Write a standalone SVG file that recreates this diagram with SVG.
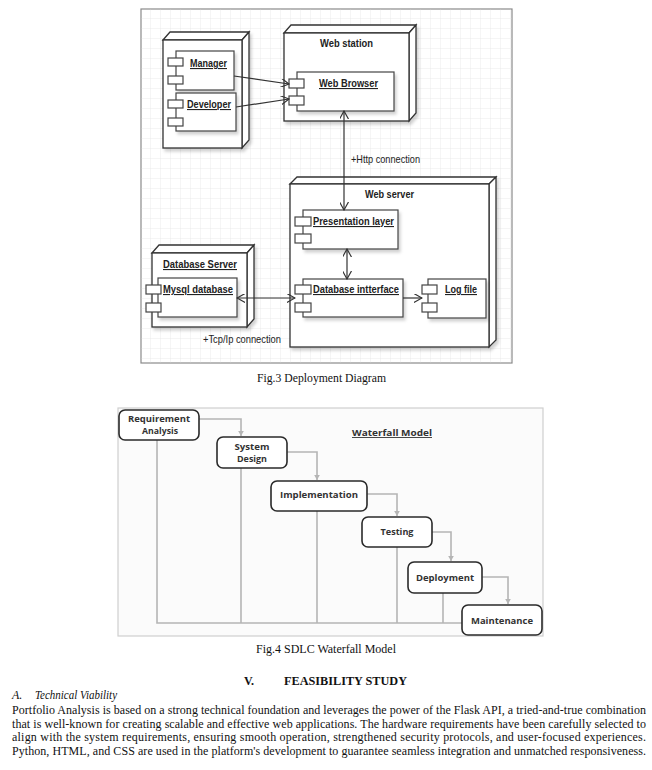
<svg xmlns="http://www.w3.org/2000/svg" width="652" height="770" viewBox="0 0 652 770">
<style>
.frame{fill:#fff;stroke:#8a8a8a;stroke-width:1.2}
.node{fill:#fff;stroke:#333;stroke-width:1.3}
.comp{fill:#fff;stroke:#444;stroke-width:1.2}
.lbl{font-family:"Liberation Sans",Arial,sans-serif;font-size:11px;fill:#222}
.b{font-weight:bold}
.u{text-decoration:underline}
.conn{stroke:#333;stroke-width:1.2;fill:none}
.wf{fill:#fff;stroke:#2a2a2a;stroke-width:1.6}
.wfl{stroke:#b5b5b5;stroke-width:1.6;fill:none}
.wft{font-family:"Open Sans","DejaVu Sans",sans-serif;font-size:9px;font-weight:bold;fill:#333;text-anchor:middle}
.wft2{font-size:8px}
.serif{font-family:"Liberation Serif","Times New Roman",serif;font-size:12px;fill:#111}
</style>
<defs>
<pattern id="grid" width="10" height="10" patternUnits="userSpaceOnUse" x="141" y="9">
<path d="M10,0 V10 M0,10 H10" fill="none" stroke="#e4e4e4" stroke-width="0.8"/>
</pattern>
<filter id="sh" x="-10%" y="-10%" width="130%" height="130%">
<feDropShadow dx="2" dy="3" stdDeviation="1.5" flood-color="#000" flood-opacity="0.18"/>
</filter>
<marker id="open" viewBox="0 0 10 10" refX="9" refY="5" markerWidth="9" markerHeight="9" orient="auto-start-reverse" markerUnits="userSpaceOnUse">
<path d="M0,0 L9,5 L0,10" fill="none" stroke="#333" stroke-width="1.3"/>
</marker>
<marker id="wfa" viewBox="0 0 10 10" refX="5" refY="9" markerWidth="7" markerHeight="7" orient="0" markerUnits="userSpaceOnUse">
<path d="M1,2 L9,2 L5,9 Z" fill="#b5b5b5"/>
</marker>
</defs>
<rect width="652" height="770" fill="#fff"/>

<!-- Deployment diagram frame -->
<rect class="frame" x="141" y="9" width="371" height="354"/>
<rect x="141.6" y="9.6" width="369.8" height="352.8" fill="url(#grid)"/>

<g id="client-node">
<g filter="url(#sh)">
<polygon class="node" points="163,40 170,32 249,32 242,40"/>
<polygon class="node" points="242,40 249,32 249,140 242,148"/>
<rect class="node" x="163" y="40" width="79" height="108"/>
</g>
</g>
<g id="manager">
<rect class="comp" x="176" y="51" width="58" height="39" filter="url(#sh)"/>
<rect class="comp" x="168" y="58" width="15" height="8"/>
<rect class="comp" x="168" y="76" width="15" height="8"/>
<text class="lbl b u" x="190" y="67" textLength="37" lengthAdjust="spacingAndGlyphs">Manager</text>
</g>
<g id="developer">
<rect class="comp" x="176" y="93" width="60" height="38" filter="url(#sh)"/>
<rect class="comp" x="168" y="100" width="15" height="8"/>
<rect class="comp" x="168" y="118" width="15" height="8"/>
<text class="lbl b u" x="187" y="108" textLength="44" lengthAdjust="spacingAndGlyphs">Developer</text>
</g>

<g id="web-station">
<g filter="url(#sh)">
<polygon class="node" points="284,33 291,25 416,25 409,33"/>
<polygon class="node" points="409,33 416,25 416,113 409,121"/>
<rect class="node" x="284" y="33" width="125" height="88"/>
</g>
<text class="lbl b" x="320" y="47" textLength="53" lengthAdjust="spacingAndGlyphs">Web station</text>
</g>
<g id="web-browser">
<rect class="comp" x="297" y="72" width="97" height="39" filter="url(#sh)"/>
<rect class="comp" x="289" y="79" width="15" height="9"/>
<rect class="comp" x="289" y="96" width="15" height="9"/>
<text class="lbl b u" x="319" y="87" textLength="59" lengthAdjust="spacingAndGlyphs">Web Browser</text>
</g>

<g id="web-server">
<g filter="url(#sh)">
<polygon class="node" points="290,184 297,177 496,177 489,184"/>
<polygon class="node" points="489,184 496,177 496,340 489,347"/>
<rect class="node" x="290" y="184" width="199" height="163"/>
</g>
<text class="lbl b" x="365" y="198" textLength="49" lengthAdjust="spacingAndGlyphs">Web server</text>
</g>
<g id="presentation-layer">
<rect class="comp" x="303" y="210" width="95" height="39" filter="url(#sh)"/>
<rect class="comp" x="295" y="217" width="16" height="9"/>
<rect class="comp" x="295" y="234" width="16" height="9"/>
<text class="lbl b u" x="313" y="225" textLength="81" lengthAdjust="spacingAndGlyphs">Presentation layer</text>
</g>
<g id="database-interface">
<rect class="comp" x="303" y="279" width="100" height="38" filter="url(#sh)"/>
<rect class="comp" x="295" y="285" width="16" height="9"/>
<rect class="comp" x="295" y="303" width="16" height="9"/>
<text class="lbl b u" x="313" y="293" textLength="86" lengthAdjust="spacingAndGlyphs">Database intterface</text>
</g>
<g id="log-file">
<rect class="comp" x="428" y="279" width="58" height="39" filter="url(#sh)"/>
<rect class="comp" x="422" y="285" width="15" height="9"/>
<rect class="comp" x="422" y="303" width="15" height="9"/>
<text class="lbl b u" x="445" y="293" textLength="32" lengthAdjust="spacingAndGlyphs">Log file</text>
</g>

<g id="database-server">
<g filter="url(#sh)">
<polygon class="node" points="152,253 159,245 254,245 247,253"/>
<polygon class="node" points="247,253 254,245 254,319 247,327"/>
<rect class="node" x="152" y="253" width="95" height="74"/>
</g>
<text class="lbl b u" x="163" y="268" textLength="74" lengthAdjust="spacingAndGlyphs">Database Server</text>
</g>
<g id="mysql-database">
<rect class="comp" x="158" y="278" width="79" height="39" filter="url(#sh)"/>
<rect class="comp" x="146" y="285" width="15" height="9"/>
<rect class="comp" x="146" y="303" width="15" height="9"/>
<text class="lbl b u" x="163" y="293" textLength="70" lengthAdjust="spacingAndGlyphs">Mysql database</text>
</g>

<g id="deployment-connectors">
<line class="conn" x1="234" y1="76" x2="289" y2="84" marker-end="url(#open)"/>
<line class="conn" x1="236" y1="107" x2="289" y2="99" marker-end="url(#open)"/>
<line class="conn" x1="344" y1="111" x2="344" y2="210" marker-start="url(#open)" marker-end="url(#open)"/>
<line class="conn" x1="347" y1="249" x2="347" y2="279" marker-start="url(#open)" marker-end="url(#open)"/>
<line class="conn" x1="237" y1="298" x2="295" y2="298" marker-start="url(#open)" marker-end="url(#open)"/>
<line class="conn" x1="403" y1="298" x2="422" y2="298" marker-end="url(#open)"/>
<text class="lbl" x="351" y="163" textLength="69" lengthAdjust="spacingAndGlyphs" fill="#333">+Http connection</text>
<text class="lbl" x="203" y="343" textLength="78" lengthAdjust="spacingAndGlyphs" fill="#333">+Tcp/Ip connection</text>
</g>

<text class="serif" x="257" y="382" textLength="129" lengthAdjust="spacingAndGlyphs">Fig.3 Deployment Diagram</text>

<!-- Waterfall model -->
<rect x="118" y="408" width="425" height="228" fill="#fbfbfb" stroke="#cfcfcf" stroke-width="1.2"/>
<text class="wft u" x="392" y="436" textLength="80" lengthAdjust="spacingAndGlyphs">Waterfall Model</text>

<g id="waterfall-connectors">
<path class="wfl" d="M199,419 H241 V436" marker-end="url(#wfa)"/>
<path class="wfl" d="M287,452 H317 V480" marker-end="url(#wfa)"/>
<path class="wfl" d="M367,494 H397 V516" marker-end="url(#wfa)"/>
<path class="wfl" d="M432,532 H451 V561" marker-end="url(#wfa)"/>
<path class="wfl" d="M482,577 H508 V604" marker-end="url(#wfa)"/>
<path class="wfl" d="M157,440 V623 H462"/>
<path class="wfl" d="M241,468 V623"/>
<path class="wfl" d="M317,511 V623"/>
<path class="wfl" d="M397,547 V623"/>
<path class="wfl" d="M443,593 V623"/>
</g>

<g id="requirement-analysis">
<rect class="wf" x="119" y="410" width="80" height="30" rx="6"/>
<text class="wft wft2" x="159" y="422" textLength="62" lengthAdjust="spacingAndGlyphs">Requirement</text>
<text class="wft wft2" x="160" y="433.5" textLength="36" lengthAdjust="spacingAndGlyphs">Analysis</text>
</g>
<g id="system-design">
<rect class="wf" x="217" y="437" width="70" height="31" rx="6"/>
<text class="wft wft2" x="252" y="450" textLength="35" lengthAdjust="spacingAndGlyphs">System</text>
<text class="wft wft2" x="252" y="461.5" textLength="30" lengthAdjust="spacingAndGlyphs">Design</text>
</g>
<g id="implementation">
<rect class="wf" x="271" y="481" width="96" height="30" rx="6"/>
<text class="wft" x="319" y="498" textLength="78" lengthAdjust="spacingAndGlyphs">Implementation</text>
</g>
<g id="testing">
<rect class="wf" x="362" y="517" width="70" height="30" rx="6"/>
<text class="wft" x="397" y="535" textLength="33" lengthAdjust="spacingAndGlyphs">Testing</text>
</g>
<g id="deployment">
<rect class="wf" x="408" y="562" width="74" height="31" rx="6"/>
<text class="wft" x="445" y="581" textLength="58" lengthAdjust="spacingAndGlyphs">Deployment</text>
</g>
<g id="maintenance">
<rect class="wf" x="462" y="605" width="80" height="30" rx="6"/>
<text class="wft" x="502" y="624" textLength="62" lengthAdjust="spacingAndGlyphs">Maintenance</text>
</g>

<text class="serif" x="256" y="653" textLength="140" lengthAdjust="spacingAndGlyphs">Fig.4 SDLC Waterfall Model</text>

<!-- Section text -->
<text class="serif" x="244" y="685" font-weight="bold">V.</text>
<text class="serif" x="284" y="685" font-weight="bold" textLength="123" lengthAdjust="spacingAndGlyphs">FEASIBILITY STUDY</text>
<text class="serif" x="12" y="699" font-style="italic">A.</text>
<text class="serif" x="35" y="699" font-style="italic" textLength="82" lengthAdjust="spacingAndGlyphs">Technical Viability</text>
<text class="serif" x="12" y="714" textLength="634" lengthAdjust="spacing">Portfolio Analysis is based on a strong technical foundation and leverages the power of the Flask API, a tried-and-true combination</text>
<text class="serif" x="12" y="727.5" textLength="634" lengthAdjust="spacing">that is well-known for creating scalable and effective web applications. The hardware requirements have been carefully selected to</text>
<text class="serif" x="12" y="741" textLength="634" lengthAdjust="spacing">align with the system requirements, ensuring smooth operation, strengthened security protocols, and user-focused experiences.</text>
<text class="serif" x="12" y="754.5" textLength="634" lengthAdjust="spacing">Python, HTML, and CSS are used in the platform's development to guarantee seamless integration and unmatched responsiveness.</text>
</svg>
